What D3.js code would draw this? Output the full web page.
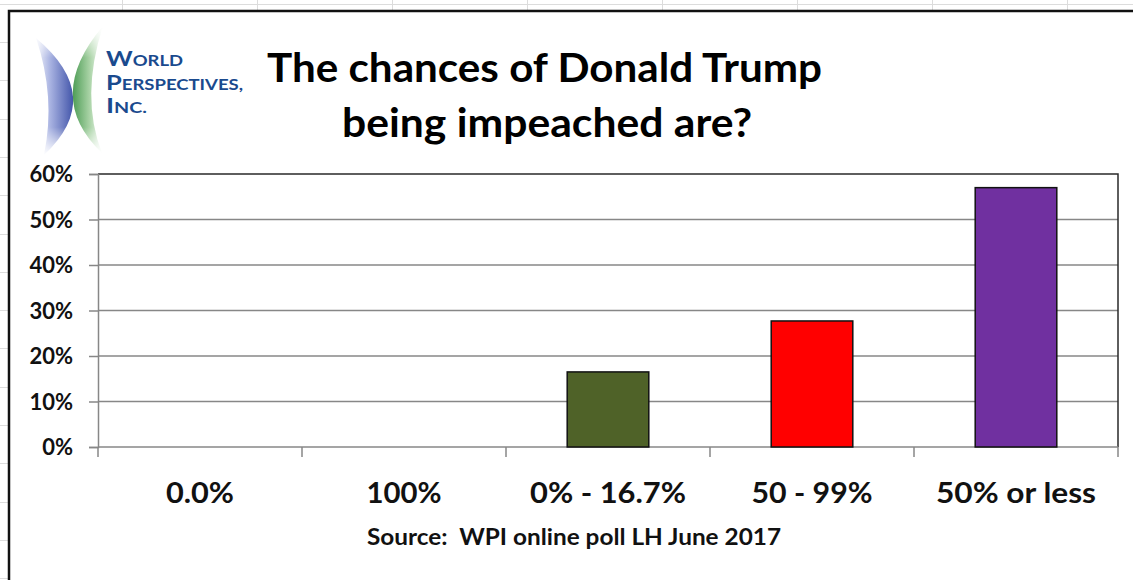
<!DOCTYPE html>
<html>
<head>
<meta charset="utf-8">
<script src="https://cdn.jsdelivr.net/npm/d3@7/dist/d3.min.js"></script>
<style>
  html, body { margin: 0; padding: 0; background: #ffffff; }
  svg { display: block; }
  text { font-family: Lato, "Open Sans", sans-serif; font-weight: 700; }
</style>
</head>
<body>
<svg id="chart" width="1133" height="580"></svg>
<script>
// ---- data ----
const categories = ["0.0%", "100%", "0% - 16.7%", "50 - 99%", "50% or less"];
const values = [0, 0, 16.5, 27.7, 57.0];
const barColors = ["#4F6228", "#4F6228", "#4F6228", "#FF0000", "#7030A0"];
const yTicks = [0, 10, 20, 30, 40, 50, 60];
const titleLines = ["The chances of Donald Trump", "being impeached are?"];
const sourceText = "Source:  WPI online poll LH June 2017";

const svg = d3.select("#chart");
const W = 1133, H = 580;

// ---- spreadsheet background lines ----
const bg = svg.append("g").attr("stroke", "#dcdcdc").attr("stroke-width", 1);
bg.append("line").attr("x1", 0).attr("x2", W).attr("y1", 4.5).attr("y2", 4.5);
d3.range(122, W, 135).forEach(x => {
  bg.append("line").attr("x1", x + 0.5).attr("x2", x + 0.5).attr("y1", 0).attr("y2", 10);
});
d3.range(42, H, 38.3).forEach(y => {
  bg.append("line").attr("x1", 0).attr("x2", 8).attr("y1", Math.round(y) + 0.5).attr("y2", Math.round(y) + 0.5);
});

// ---- chart area border ----
svg.append("path")
  .attr("d", `M9,${H} L9,11 L${W},11`)
  .attr("fill", "none").attr("stroke", "#111").attr("stroke-width", 2.5);

// ---- scales ----
const x = d3.scaleBand().domain(categories).range([98, 1118]).paddingInner(0.6).paddingOuter(0.3);
const y = d3.scaleLinear().domain([0, 60]).range([447, 174]);

// gridlines
svg.append("g").selectAll("line").data(yTicks.filter(d => d > 0 && d < 60)).join("line")
  .attr("x1", 98).attr("x2", 1118)
  .attr("y1", d => y(d)).attr("y2", d => y(d))
  .attr("stroke", "#878787").attr("stroke-width", 1.5);

// plot area border (top + right)
svg.append("path")
  .attr("d", `M98,${y(60)} L1118,${y(60)} L1118,${y(0)}`)
  .attr("fill", "none").attr("stroke", "#2a2a2a").attr("stroke-width", 1.5);

// y axis
const yAxis = d3.axisLeft(y).tickValues(yTicks).tickFormat(d => d + "%").tickSize(9).tickPadding(16);
const gy = svg.append("g").attr("transform", "translate(98,0)").call(yAxis);
gy.select(".domain").attr("stroke", "#878787").attr("stroke-width", 1.5);
gy.selectAll(".tick line").attr("stroke", "#878787").attr("stroke-width", 1.5);
gy.selectAll(".tick text").attr("font-family", "Lato, sans-serif").attr("font-weight", 700)
  .attr("font-size", 22).attr("fill", "#111").attr("dy", "0.36em");

// x axis baseline + boundary ticks
svg.append("line").attr("x1", 98).attr("x2", 1118).attr("y1", y(0)).attr("y2", y(0))
  .attr("stroke", "#878787").attr("stroke-width", 1.5);
const bx = [x.range()[0]].concat(categories.map(c => x(c) + x.bandwidth() + x.step() * x.paddingInner() / 2));
svg.append("g").selectAll("line").data(bx).join("line")
  .attr("x1", d => d).attr("x2", d => d)
  .attr("y1", y(0)).attr("y2", y(0) + 10)
  .attr("stroke", "#878787").attr("stroke-width", 1.5);

// bars
const barData = categories.map((c, i) => ({ c, v: values[i], color: barColors[i] })).filter(d => d.v > 0);
svg.append("g").selectAll("rect").data(barData).join("rect")
  .attr("x", d => x(d.c)).attr("width", x.bandwidth())
  .attr("y", d => y(d.v)).attr("height", d => y(0) - y(d.v))
  .attr("fill", d => d.color).attr("stroke", "#111").attr("stroke-width", 1.5);

// category labels
const catWidths = { "0.0%": 68, "100%": 75, "0% - 16.7%": 156, "50 - 99%": 121, "50% or less": 160 };
svg.append("g").selectAll("text").data(categories).join("text")
  .attr("x", d => x(d) + x.bandwidth() / 2).attr("y", 503)
  .attr("text-anchor", "middle").attr("font-size", 28).attr("fill", "#111")
  .attr("textLength", d => catWidths[d]).attr("lengthAdjust", "spacingAndGlyphs")
  .text(d => d);

// source
svg.append("text").attr("x", 574).attr("y", 545).attr("text-anchor", "middle")
  .attr("font-size", 22).attr("fill", "#111").style("white-space", "pre")
  .attr("textLength", 414).attr("lengthAdjust", "spacingAndGlyphs")
  .text(sourceText);

// title
const titleW = [555, 410], titleY = [82, 137], titleX = [544.5, 547];
svg.append("g").selectAll("text").data(titleLines).join("text")
  .attr("x", (d, i) => titleX[i]).attr("y", (d, i) => titleY[i])
  .attr("text-anchor", "middle").attr("font-size", 40).attr("fill", "#000")
  .attr("textLength", (d, i) => titleW[i]).attr("lengthAdjust", "spacingAndGlyphs")
  .text(d => d);

// ---- logo ----
const defs = svg.append("defs");
const gb = defs.append("linearGradient").attr("id", "gblue").attr("gradientUnits", "userSpaceOnUse")
  .attr("x1", 34).attr("y1", 0).attr("x2", 74).attr("y2", 0);
gb.append("stop").attr("offset", "0").attr("stop-color", "#ffffff");
gb.append("stop").attr("offset", "0.4").attr("stop-color", "#aab4e2");
gb.append("stop").attr("offset", "1").attr("stop-color", "#3f52a8");
const gg = defs.append("linearGradient").attr("id", "ggreen").attr("gradientUnits", "userSpaceOnUse")
  .attr("x1", 72).attr("y1", 0).attr("x2", 104).attr("y2", 0);
gg.append("stop").attr("offset", "0").attr("stop-color", "#4a9a52");
gg.append("stop").attr("offset", "0.55").attr("stop-color", "#a9d3a6");
gg.append("stop").attr("offset", "1").attr("stop-color", "#ffffff");
const fade = defs.append("linearGradient").attr("id", "vfade").attr("gradientUnits", "userSpaceOnUse")
  .attr("x1", 0).attr("y1", 25).attr("x2", 0).attr("y2", 156);
fade.append("stop").attr("offset", "0").attr("stop-color", "#000");
fade.append("stop").attr("offset", "0.25").attr("stop-color", "#fff");
fade.append("stop").attr("offset", "0.78").attr("stop-color", "#fff");
fade.append("stop").attr("offset", "1").attr("stop-color", "#000");
defs.append("mask").attr("id", "logomask").attr("maskUnits", "userSpaceOnUse")
  .attr("x", 0).attr("y", 0).attr("width", 200).attr("height", 200)
  .append("rect").attr("x", 0).attr("y", 20).attr("width", 200).attr("height", 140).attr("fill", "url(#vfade)");

const logo = svg.append("g").attr("mask", "url(#logomask)");
logo.append("path").attr("d", "M36,38 Q106,97 44,155 Q56,97 36,38 Z").attr("fill", "url(#gblue)");
logo.append("path").attr("d", "M103,26 Q43,97 102,153 Q80,97 103,26 Z").attr("fill", "url(#ggreen)");

const logoLines = [["W", "ORLD"], ["P", "ERSPECTIVES,"], ["I", "NC."]];
const logoBase = [66, 90, 113], logoW = [77, 137, 41];
const lt = svg.append("g").selectAll("text").data(logoLines).join("text")
  .attr("x", 106).attr("y", (d, i) => logoBase[i])
  .attr("fill", "#1a4a8e").attr("font-family", "'Noto Sans', sans-serif").attr("font-weight", 700)
  .attr("textLength", (d, i) => logoW[i]).attr("lengthAdjust", "spacingAndGlyphs");
lt.append("tspan").attr("font-size", 20).text(d => d[0]);
lt.append("tspan").attr("font-size", 14.5).text(d => d[1]);
</script>
</body>
</html>
